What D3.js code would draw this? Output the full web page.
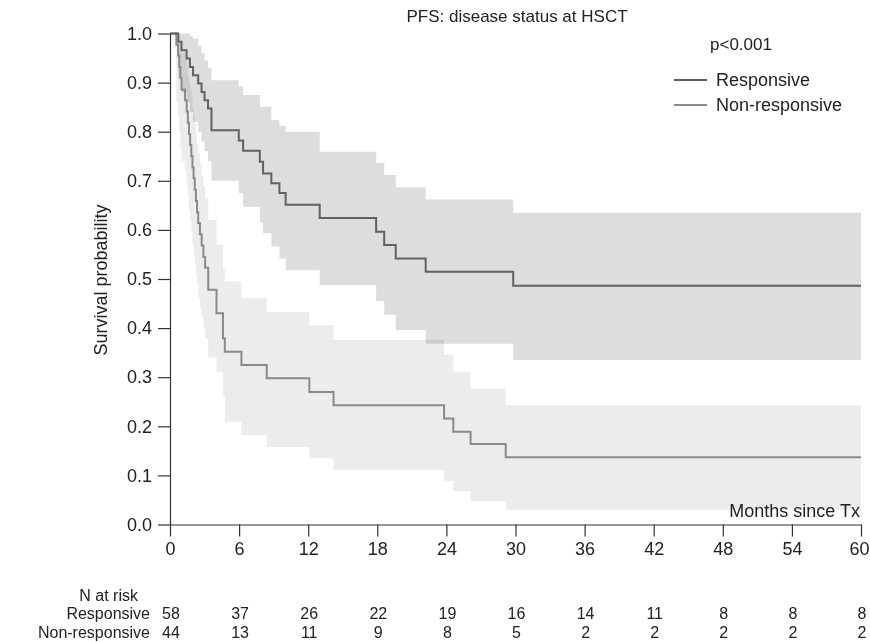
<!DOCTYPE html>
<html>
<head>
<meta charset="utf-8">
<script src="https://cdn.jsdelivr.net/npm/d3@7"></script>
<style>
  body { margin: 0; background: #fff; }
  text { font-family: "Liberation Sans", Arial, sans-serif; fill: #222; }
</style>
</head>
<body>
<div id="km_chart"></div>
<script>
// Responsive group: step times (months), survival, lower / upper CI
var respTime  = [0, 0.72, 1.0, 1.44, 1.73, 2.0, 2.45, 2.74, 3.0, 3.3, 3.6, 5.97, 6.35, 7.8, 8.08, 8.8, 9.5, 10.04, 13.0, 17.9, 18.6, 19.6, 22.2, 29.8, 60];
var respSurv  = [1, 0.983, 0.966, 0.949, 0.932, 0.915, 0.898, 0.881, 0.864, 0.847, 0.803, 0.782, 0.761, 0.739, 0.715, 0.695, 0.675, 0.651, 0.624, 0.596, 0.569, 0.542, 0.515, 0.486, 0.486];
var respLower = [1, 0.91, 0.88, 0.86, 0.84, 0.82, 0.80, 0.78, 0.76, 0.74, 0.70, 0.675, 0.647, 0.615, 0.593, 0.566, 0.542, 0.518, 0.488, 0.455, 0.427, 0.396, 0.368, 0.335, 0.335];
var respUpper = [1, 1, 1, 1, 0.995, 0.99, 0.975, 0.96, 0.945, 0.93, 0.905, 0.892, 0.875, 0.851, 0.851, 0.824, 0.812, 0.80, 0.759, 0.736, 0.712, 0.687, 0.662, 0.635, 0.635];

// Non-responsive group
var nonTime  = [0, 0.55, 0.7, 0.8, 0.9, 1.0, 1.3, 1.45, 1.55, 1.65, 1.75, 1.85, 1.95, 2.05, 2.15, 2.25, 2.35, 2.45, 2.6, 2.75, 2.9, 3.05, 3.32, 4.04, 4.6, 4.76, 6.2, 8.4, 12.1, 14.2, 23.8, 24.6, 26.1, 29.15, 60];
var nonSurv  = [1, 0.977, 0.955, 0.932, 0.909, 0.886, 0.864, 0.841, 0.818, 0.795, 0.773, 0.750, 0.727, 0.705, 0.682, 0.659, 0.636, 0.614, 0.591, 0.568, 0.545, 0.523, 0.478, 0.430, 0.379, 0.352, 0.325, 0.298, 0.270, 0.243, 0.216, 0.189, 0.164, 0.137, 0.137];
var nonLower = [1, 0.86, 0.83, 0.80, 0.77, 0.74, 0.72, 0.69, 0.67, 0.64, 0.62, 0.60, 0.57, 0.55, 0.53, 0.51, 0.49, 0.46, 0.44, 0.42, 0.40, 0.38, 0.34, 0.31, 0.26, 0.209, 0.182, 0.158, 0.135, 0.111, 0.089, 0.068, 0.048, 0.030, 0.030];
var nonUpper = [1, 0.997, 0.99, 0.98, 0.97, 0.96, 0.95, 0.93, 0.915, 0.90, 0.885, 0.87, 0.85, 0.835, 0.815, 0.795, 0.775, 0.755, 0.735, 0.71, 0.69, 0.665, 0.62, 0.57, 0.52, 0.495, 0.461, 0.433, 0.406, 0.376, 0.345, 0.311, 0.277, 0.243, 0.243];

// number at risk table
var riskTimes = [0, 6, 12, 18, 24, 30, 36, 42, 48, 54, 60];
var riskResp  = [58, 37, 26, 22, 19, 16, 14, 11, 8, 8, 8];
var riskNon   = [44, 13, 11, 9, 8, 5, 2, 2, 2, 2, 2];

var groupNames = ["Responsive", "Non-responsive"];
var yTicks = [0, 0.1, 0.2, 0.3, 0.4, 0.5, 0.6, 0.7, 0.8, 0.9, 1.0];

var width = 870, height = 642;

var svg = d3.select("#km_chart")
  .append("svg")
  .attr("width", width)
  .attr("height", height);

var x = d3.scaleLinear().domain([0, 60]).range([170, 861]);
var y = d3.scaleLinear().domain([0, 1]).range([524.5, 33.5]);

function rows(t, s, lo, hi) {
  return t.map(function (d, i) {
    return { t: d, s: s[i], lo: lo[i], hi: hi[i] };
  });
}
var resp = rows(respTime, respSurv, respLower, respUpper);
var non = rows(nonTime, nonSurv, nonLower, nonUpper);

var band = d3.area()
  .curve(d3.curveStepAfter)
  .x(function (d) { return x(d.t); })
  .y0(function (d) { return y(d.lo); })
  .y1(function (d) { return y(d.hi); });

var line = d3.line()
  .curve(d3.curveStepAfter)
  .x(function (d) { return x(d.t); })
  .y(function (d) { return y(d.s); });

// confidence bands (overlap gets darker)
var bands = svg.append("g").style("isolation", "isolate");
bands.append("path")
  .datum(non)
  .attr("fill", "#ececec")
  .style("mix-blend-mode", "multiply")
  .attr("d", band);
bands.append("path")
  .datum(resp)
  .attr("fill", "#dddddd")
  .style("mix-blend-mode", "multiply")
  .attr("d", band);

// survival curves
svg.append("path")
  .datum(non)
  .attr("fill", "none")
  .attr("stroke", "#8a8a8a")
  .attr("stroke-width", 2)
  .attr("d", line);
svg.append("path")
  .datum(resp)
  .attr("fill", "none")
  .attr("stroke", "#616161")
  .attr("stroke-width", 2)
  .attr("d", line);

// axes
var yAxis = svg.append("g")
  .attr("transform", "translate(170,0)")
  .call(d3.axisLeft(y).tickValues(yTicks).tickFormat(d3.format(".1f")).tickSize(12).tickPadding(6).tickSizeOuter(0));

var xAxis = svg.append("g")
  .attr("transform", "translate(0,524.5)")
  .call(d3.axisBottom(x).tickValues(riskTimes).tickSize(12).tickPadding(6).tickSizeOuter(0));

[yAxis, xAxis].forEach(function (a) {
  a.selectAll("path, line").attr("stroke", "#333").attr("stroke-width", 1.2);
  a.selectAll("text").style("font-size", "18px").attr("fill", "#222");
});
// keep the last tick label inside the frame
xAxis.selectAll(".tick:last-of-type text").attr("dx", -2);

// labels
svg.append("text")
  .attr("transform", "translate(107,280) rotate(-90)")
  .attr("text-anchor", "middle")
  .style("font-size", "18px")
  .text("Survival probability");

svg.append("text")
  .attr("x", 517).attr("y", 22)
  .attr("text-anchor", "middle")
  .style("font-size", "17px")
  .text("PFS: disease status at HSCT");

svg.append("text")
  .attr("x", 860).attr("y", 517)
  .attr("text-anchor", "end")
  .style("font-size", "18px")
  .text("Months since Tx");

svg.append("text")
  .attr("x", 710).attr("y", 50)
  .style("font-size", "17px")
  .text("p<0.001");

// legend
var legendColors = ["#616161", "#8a8a8a"];
groupNames.forEach(function (g, i) {
  var ly = 80 + i * 25;
  svg.append("line")
    .attr("x1", 674).attr("x2", 707)
    .attr("y1", ly).attr("y2", ly)
    .attr("stroke", legendColors[i])
    .attr("stroke-width", 2);
  svg.append("text")
    .attr("x", 716).attr("y", ly + 6)
    .style("font-size", "18px")
    .text(g);
});

// number at risk
svg.append("text")
  .attr("x", 138).attr("y", 601)
  .attr("text-anchor", "end")
  .style("font-size", "16px")
  .text("N at risk");

[riskResp, riskNon].forEach(function (vals, i) {
  var ry = 619 + i * 19;
  svg.append("text")
    .attr("x", 150).attr("y", ry)
    .attr("text-anchor", "end")
    .style("font-size", "16px")
    .text(groupNames[i]);
  svg.selectAll(null)
    .data(vals)
    .enter()
    .append("text")
    .attr("x", function (d, j) { return x(riskTimes[j]) + 1; })
    .attr("y", ry)
    .attr("text-anchor", "middle")
    .style("font-size", "16px")
    .text(function (d) { return d; });
});
</script>
</body>
</html>
